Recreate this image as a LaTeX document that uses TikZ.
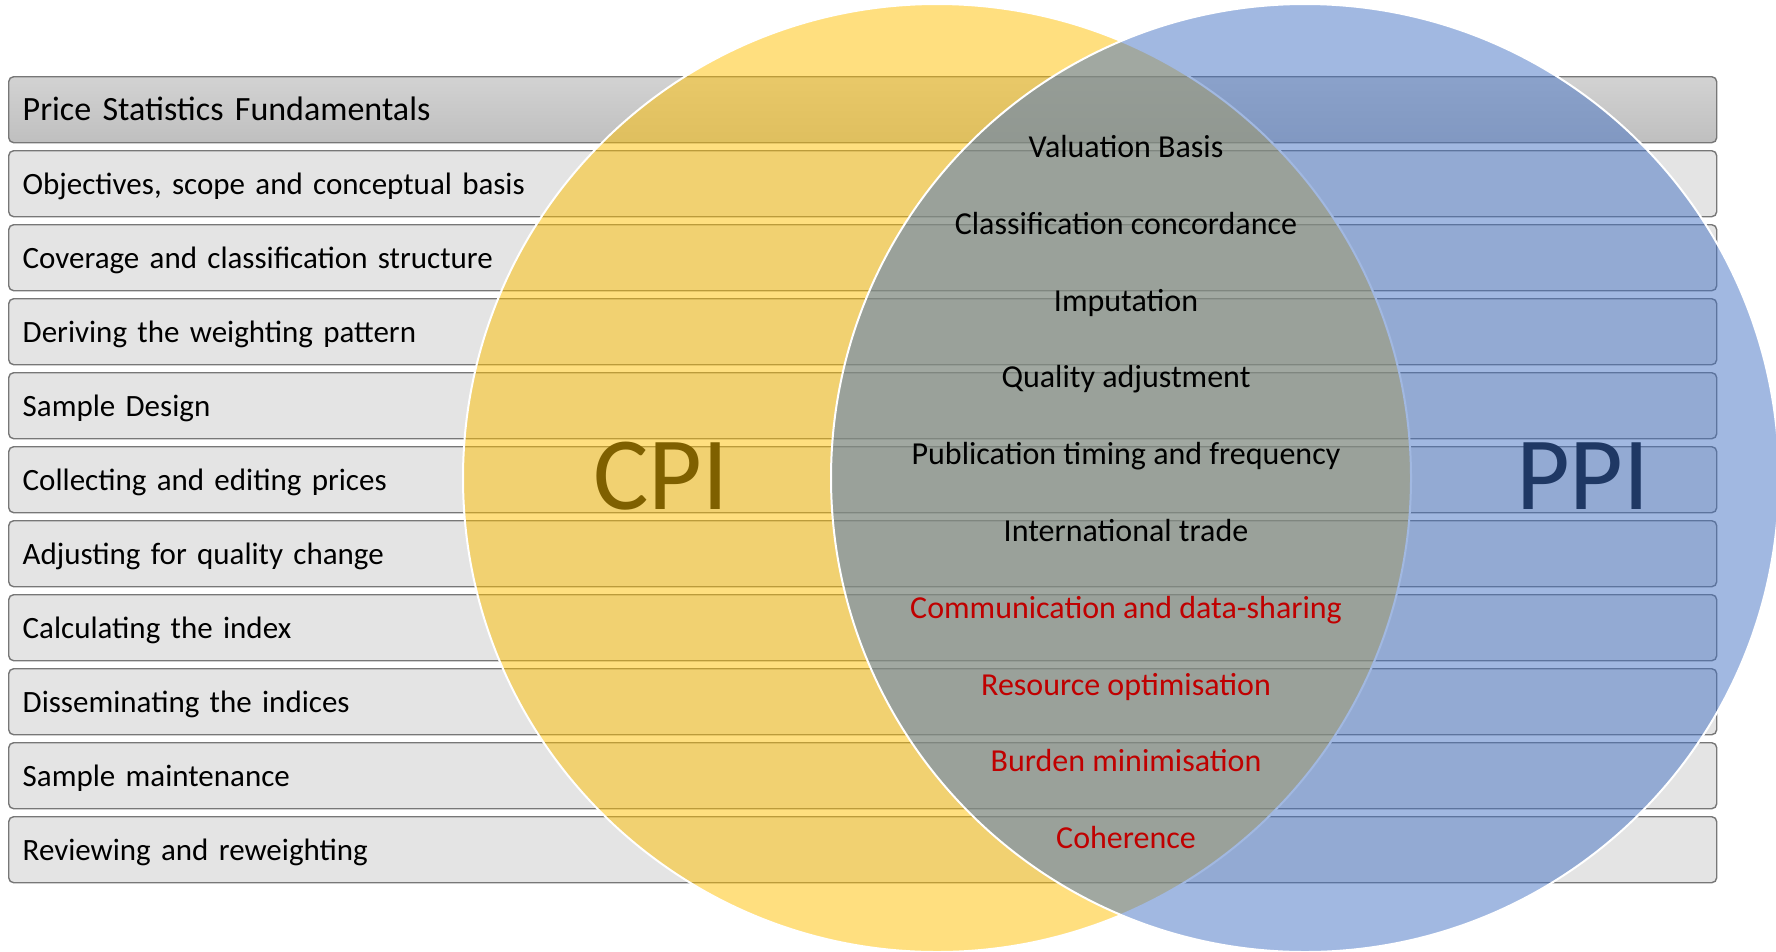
\documentclass[tikz,border=0pt]{standalone}
\usepackage{fontspec}
\setmainfont{Carlito}
\usetikzlibrary{positioning}
\definecolor{cpigold}{HTML}{FFC000}
\definecolor{ppiblue}{HTML}{4472C4}
\definecolor{cpitext}{HTML}{7F6000}
\definecolor{ppitext}{HTML}{1F3864}
\definecolor{sharedred}{HTML}{C00000}
\definecolor{barline}{HTML}{777777}
\definecolor{barfill}{HTML}{E4E4E4}
\tikzstyle{bar} = [rectangle, rounded corners=5pt, draw=barline, line width=1.4pt,
                   fill=barfill, minimum width=1708pt, minimum height=66pt,
                   text width=1680pt, align=left, inner xsep=14pt,
                   anchor=north west, text height=21pt, text depth=0pt,
                   font=\fontsize{31}{37}\selectfont]
\tikzstyle{headbar} = [bar, top color=gray!35, bottom color=gray!50,
                       font=\fontsize{34}{40}\selectfont]
\tikzstyle{shared} = [text centered, anchor=base, inner sep=0pt,
                      font=\fontsize{32}{38}\selectfont]
\tikzstyle{bigname} = [text centered, anchor=base, inner sep=0pt,
                       font=\fontsize{104}{114}\selectfont]
\tikzstyle{setline} = [draw=white, line width=2pt, fill opacity=0.5]
\newcommand{\drawBar}[4]
{
    \node (#1) [#4] at (8, {76+74*#2}) {#3};
}
\newcommand{\sharedItem}[4]
{
    \node (#1) [shared, text=#4] at (1126, {157.5+76.8*#2}) {#3};
}

\begin{document}
\begin{tikzpicture}[x=1pt, y=-1pt]
\useasboundingbox (0,0) rectangle (1776,951);
\coordinate (cpicentre) at (937, 478);
\coordinate (ppicentre) at (1305, 478);

\drawBar{bar0}{0}{Price Statistics Fundamentals}{headbar}
\drawBar{bar1}{1}{Objectives, scope and conceptual basis}{bar}
\drawBar{bar2}{2}{Coverage and classification structure}{bar}
\drawBar{bar3}{3}{Deriving the weighting pattern}{bar}
\drawBar{bar4}{4}{Sample Design}{bar}
\drawBar{bar5}{5}{Collecting and editing prices}{bar}
\drawBar{bar6}{6}{Adjusting for quality change}{bar}
\drawBar{bar7}{7}{Calculating the index}{bar}
\drawBar{bar8}{8}{Disseminating the indices}{bar}
\drawBar{bar9}{9}{Sample maintenance}{bar}
\drawBar{bar10}{10}{Reviewing and reweighting}{bar}

\filldraw [setline, fill=cpigold] (cpicentre) circle [radius=474pt];
\filldraw [setline, fill=ppiblue] (ppicentre) circle [radius=474pt];

\node (cpi) [bigname, text=cpitext] at (661, 509) {CPI};
\node (ppi) [bigname, text=ppitext] at (1583, 509) {PPI};

\sharedItem{s0}{0}{Valuation Basis}{black}
\sharedItem{s1}{1}{Classification concordance}{black}
\sharedItem{s2}{2}{Imputation}{black}
\sharedItem{s3}{3}{Quality adjustment}{black}
\sharedItem{s4}{4}{Publication timing and frequency}{black}
\sharedItem{s5}{5}{International trade}{black}
\sharedItem{s6}{6}{Communication and data-sharing}{sharedred}
\sharedItem{s7}{7}{Resource optimisation}{sharedred}
\sharedItem{s8}{8}{Burden minimisation}{sharedred}
\sharedItem{s9}{9}{Coherence}{sharedred}

\end{tikzpicture}
\end{document}
